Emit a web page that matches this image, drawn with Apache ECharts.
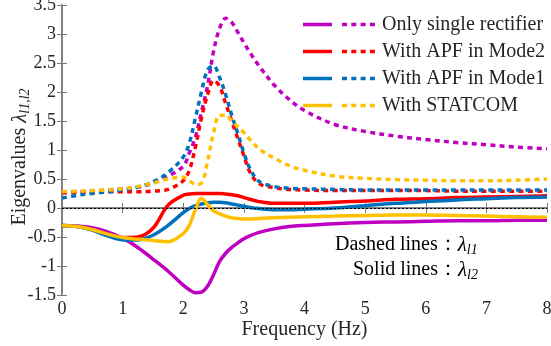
<!DOCTYPE html>
<html><head><meta charset="utf-8">
<script src="https://cdn.jsdelivr.net/npm/echarts@6/dist/echarts.min.js"></script>
<style>html,body{margin:0;padding:0;background:#fff}#c{width:551px;height:346px}</style>
</head><body><div id="c"></div>
<script>
// ---- data ----
const freq = [0,0.25,0.5,0.75,1,1.25,1.5,1.75,2,2.1,2.2,2.3,2.4,2.5,2.6,2.7,2.8,2.9,3,3.1,3.25,3.5,3.75,4,4.5,5,5.5,6,6.5,7,7.5,8];

const rectL1  = [0.27,0.28,0.29,0.31,0.33,0.36,0.43,0.55,0.72,0.95,1.22,1.65,2.1,2.7,3.1,3.27,3.2,3.03,2.85,2.68,2.45,2.12,1.87,1.68,1.44,1.32,1.24,1.18,1.13,1.09,1.05,1.02];
const rectL2  = [-0.3,-0.31,-0.34,-0.41,-0.52,-0.68,-0.88,-1.09,-1.33,-1.41,-1.46,-1.45,-1.35,-1.15,-0.92,-0.78,-0.68,-0.6,-0.53,-0.48,-0.42,-0.36,-0.32,-0.3,-0.27,-0.25,-0.24,-0.23,-0.22,-0.22,-0.21,-0.21];
const mode2L1 = [0.26,0.27,0.27,0.28,0.28,0.28,0.29,0.32,0.47,0.65,1.05,1.55,1.95,2.2,2.1,1.8,1.5,1.2,0.9,0.62,0.42,0.35,0.32,0.31,0.3,0.3,0.3,0.3,0.29,0.29,0.29,0.29];
const mode2L2 = [-0.3,-0.32,-0.37,-0.45,-0.51,-0.5,-0.35,0.05,0.22,0.24,0.25,0.25,0.25,0.25,0.25,0.24,0.23,0.21,0.18,0.15,0.11,0.08,0.08,0.08,0.1,0.12,0.15,0.16,0.18,0.19,0.2,0.21];
const mode1L1 = [0.17,0.22,0.25,0.28,0.31,0.36,0.45,0.61,0.88,1.12,1.55,2.0,2.38,2.45,2.25,1.95,1.6,1.28,0.95,0.68,0.46,0.37,0.34,0.33,0.32,0.31,0.31,0.31,0.31,0.31,0.31,0.31];
const mode1L2 = [-0.3,-0.32,-0.38,-0.48,-0.55,-0.55,-0.47,-0.3,-0.08,-0.01,0.04,0.07,0.09,0.1,0.1,0.09,0.07,0.05,0.03,0.01,-0.01,-0.03,-0.03,-0.02,0.0,0.04,0.08,0.11,0.14,0.16,0.18,0.19];
const statL1  = [0.28,0.29,0.3,0.31,0.33,0.37,0.43,0.5,0.53,0.47,0.41,0.43,0.8,1.3,1.6,1.6,1.5,1.4,1.3,1.18,1.02,0.86,0.73,0.65,0.55,0.51,0.49,0.48,0.47,0.47,0.48,0.5];
const statL2  = [-0.3,-0.32,-0.37,-0.45,-0.51,-0.54,-0.56,-0.58,-0.44,-0.3,-0.03,0.17,0.06,-0.05,-0.1,-0.14,-0.17,-0.18,-0.19,-0.19,-0.18,-0.17,-0.16,-0.15,-0.14,-0.13,-0.12,-0.12,-0.13,-0.14,-0.15,-0.16];

const legendNames = ['Only single rectifier','With APF in Mode2','With APF in Mode1','With STATCOM'];
const colors = ['#C000C0','#FF0000','#0072BD','#FFC000'];
const zeroLevel = 0;
const yMin = -1.5, yMax = 3.5, yStep = 0.5;
const xMin = 0, xMax = 8, xStep = 1;

// ---- chart ----
const FONT = "'Liberation Serif','Times New Roman',serif";
const pairs = arr => freq.map((x,i)=>[x, arr[i]]);
const dashedSets = [rectL1, mode2L1, mode1L1, statL1];
const solidSets  = [rectL2, mode2L2, mode1L2, statL2];

const series = [];
dashedSets.forEach((d,i)=>{
  series.push({type:'line', name:legendNames[i]+' λl1', data:pairs(d), showSymbol:false, smooth:0.35,
    lineStyle:{color:colors[i], width:3.5, type:[5,4.3]}, z:2});
});
solidSets.forEach((d,i)=>{
  series.push({type:'line', name:legendNames[i]+' λl2', data:pairs(d), showSymbol:false, smooth:0.35,
    lineStyle:{color:colors[i], width:3.5}, z:3});
});
series[0].markLine = {silent:true, symbol:'none', label:{show:false},
  lineStyle:{color:'#000', type:[2,2], width:1}, data:[{yAxis:zeroLevel}]};

const graphic = [];
const legY = [24.5, 51.5, 78.5, 105.5];
legendNames.forEach((n,i)=>{
  graphic.push({type:'line', shape:{x1:303,y1:legY[i],x2:332,y2:legY[i]}, style:{stroke:colors[i], lineWidth:3.5}});
  graphic.push({type:'line', shape:{x1:342,y1:legY[i],x2:375,y2:legY[i]}, style:{stroke:colors[i], lineWidth:3.5, lineDash:[5,4.3]}});
  graphic.push({type:'text', x:382, y:legY[i], style:{text:n, font:'20px '+FONT, fill:'#262626', textVerticalAlign:'middle'}});
});
const richLam = {
  t:{fontFamily:FONT, fontSize:20, color:'#262626'},
  lam:{fontFamily:FONT, fontSize:21, fontStyle:'italic', color:'#262626'},
  sub:{fontFamily:FONT, fontSize:14, fontStyle:'italic', color:'#262626', padding:[10,0,0,0]}
};
graphic.push({type:'text', x:335, y:245, style:{text:'{t|Dashed lines：}{lam|λ}{sub|l1}', rich:richLam, textVerticalAlign:'middle'}});
graphic.push({type:'text', x:353, y:270, style:{text:'{t|Solid lines：}{lam|λ}{sub|l2}', rich:richLam, textVerticalAlign:'middle'}});

const axisColor = '#7a7a7a';
const chart = echarts.init(document.getElementById('c'), null, {renderer:'canvas'});
chart.setOption({
  animation:false,
  backgroundColor:'#fff',
  grid:{left:62, right:4, top:5, bottom:51, containLabel:false,
        outerBoundsMode:'auto', outerBounds:{left:-40, top:-40, right:-40, bottom:-40}},
  xAxis:[{type:'value', min:xMin, max:xMax, interval:xStep,
    name:'Frequency (Hz)', nameLocation:'middle', nameGap:25, nameMoveOverlap:false,
    nameTextStyle:{fontFamily:FONT, fontSize:20, color:'#262626'},
    axisLine:{lineStyle:{color:axisColor, width:1.5}}, axisTick:{inside:true, length:5, lineStyle:{color:axisColor}},
    axisLabel:{fontFamily:FONT, fontSize:18, color:'#262626', margin:5, showMinLabel:true, showMaxLabel:true, hideOverlap:false},
    splitLine:{show:false}},
    {type:'value', position:'top', min:xMin, max:xMax, interval:xStep,
    axisLine:{lineStyle:{color:axisColor, width:1.5}}, axisTick:{inside:true, length:5, lineStyle:{color:axisColor}},
    axisLabel:{show:false}, splitLine:{show:false}}],
  yAxis:[{type:'value', min:yMin, max:yMax, interval:yStep,
    name:'{t|Eigenvalues }{lam|λ}{sub|l1,l2}', nameLocation:'middle', nameGap:30, nameMoveOverlap:false,
    nameTextStyle:{rich:richLam, padding:[0,14,0,0]},
    axisLine:{lineStyle:{color:axisColor, width:1.5}}, axisTick:{inside:true, length:5, lineStyle:{color:axisColor}},
    axisLabel:{fontFamily:FONT, fontSize:18, color:'#262626', margin:6, showMinLabel:true, showMaxLabel:true, hideOverlap:false},
    splitLine:{show:false}},
    {type:'value', position:'right', min:yMin, max:yMax, interval:yStep,
    axisLine:{lineStyle:{color:axisColor, width:1.5}}, axisTick:{inside:true, length:5, lineStyle:{color:axisColor}},
    axisLabel:{show:false}, splitLine:{show:false}}],
  series:series,
  graphic:graphic
});
</script></body></html>
